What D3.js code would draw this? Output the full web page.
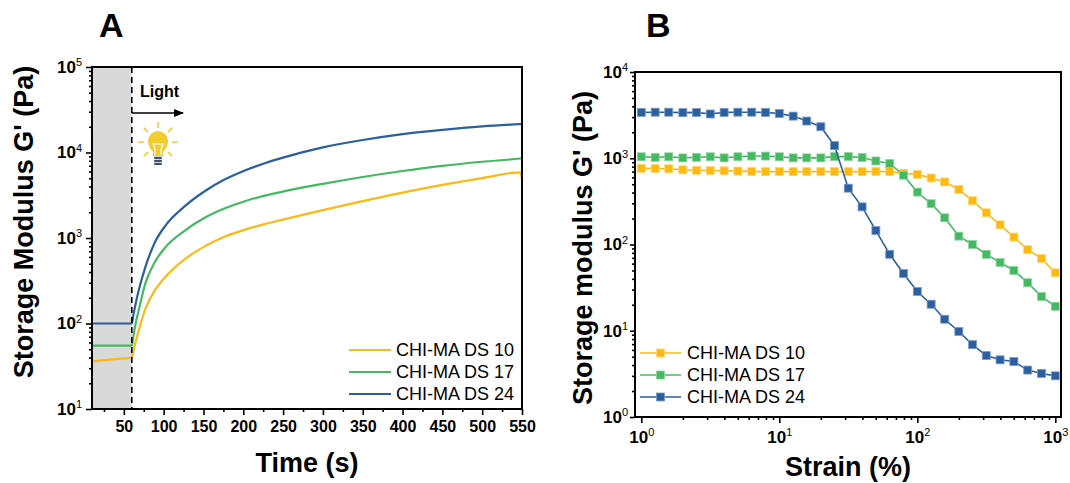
<!DOCTYPE html>
<html>
<head>
<meta charset="utf-8">
<script src="https://cdn.jsdelivr.net/npm/d3@7"></script>
<style>
  html, body { margin: 0; padding: 0; background: #fff; }
  svg { display: block; font-family: "Liberation Sans", Arial, sans-serif; }
</style>
</head>
<body>
<svg id="chart" width="1070" height="483"></svg>
<script>
// ---- data, panel A (time sweep, light on at 60 s)
const timeA = [10, 35, 60, 62, 65, 69, 77, 89, 102, 127, 152, 177, 202, 227, 252, 300, 350, 400, 450, 500, 548, 550];
const ds10A = [36, 38, 40, 48, 62, 85, 148, 245, 349, 569, 804, 1041, 1252, 1454, 1660, 2117, 2696, 3394, 4175, 5019, 5860, 4800];
const ds17A = [55, 55, 55, 72, 102, 148, 295, 525, 776, 1230, 1738, 2226, 2692, 3126, 3528, 4304, 5175, 6080, 6981, 7789, 8508, 8550];
const ds24A = [100, 100, 100, 126, 174, 251, 457, 891, 1390, 2377, 3548, 4853, 6166, 7499, 8831, 11482, 13996, 16406, 18408, 20184, 21478, 21528];
const lightOn = 60;
const timeTicks = [50, 100, 150, 200, 250, 300, 350, 400, 450, 500, 550];

// ---- data, panel B (strain sweep)
const strainB = [1, 1.26, 1.58, 2, 2.51, 3.16, 3.98, 5.01, 6.31, 7.94, 10, 12.6, 15.8, 20, 25.1, 31.6,
  39.8, 50.1, 63.1, 79.4, 100, 126, 158, 200, 251, 316, 398, 501, 631, 794, 1000];
const ds10B = [765, 760, 755, 735, 725, 720, 715, 710, 705, 700, 700, 700, 700, 700, 700, 700,
  700, 700, 700, 670, 650, 590, 531, 436, 322, 233, 169, 122, 87, 69, 47];
const ds17B = [1040, 1025, 1040, 1010, 1025, 1040, 1010, 1040, 1060, 1060, 1040, 1010, 1010, 1010, 1045, 1045,
  1020, 930, 870, 635, 405, 297, 204, 125, 100, 77, 62, 50, 36, 25, 19.2];
const ds24B = [3400, 3420, 3420, 3380, 3400, 3260, 3400, 3420, 3420, 3400, 3300, 3080, 2700, 2320, 1400, 450,
  273, 145, 77, 46, 28.5, 20.3, 13.6, 9.8, 6.9, 5.15, 4.6, 4.4, 3.5, 3.2, 3.0];

const seriesNames = ['CHI-MA DS 10', 'CHI-MA DS 17', 'CHI-MA DS 24'];
const colors = ['#fdb913', '#45b862', '#2b5f9e'];
const markerEdge = ['#ffd76e', '#8fd6a0', '#7b9ccb'];

const svg = d3.select('#chart');

// helpers
function decadeMinors(lo, hi) {
  const out = [];
  for (let p = lo; p < hi; p *= 10) {
    for (let k = 2; k <= 9; k++) out.push(k * p);
  }
  return out;
}

function powerLabels(g) {
  g.selectAll('.tick text').each(function(d) {
    const t = d3.select(this);
    t.text('10');
    t.append('tspan')
      .attr('dy', '-0.6em')
      .attr('font-size', 11)
      .attr('font-weight', 'normal')
      .text(Math.round(Math.log10(d)));
  });
}

function styleAxis(g, size) {
  g.select('.domain').remove();
  g.selectAll('.tick line').attr('stroke', '#000').attr('stroke-width', 1.6);
  g.selectAll('.tick text')
    .attr('fill', '#000')
    .attr('font-size', size)
    .attr('font-weight', 'bold')
    .attr('font-family', '"Liberation Sans", Arial, sans-serif');
}

// ================= panel A =================
const pa = { left: 92, right: 522, top: 67, bottom: 409 };
const xA = d3.scaleLinear().domain([10, 550]).range([pa.left, pa.right]);
const yA = d3.scaleLog().domain([10, 1e5]).range([pa.bottom, pa.top]);
const gA = svg.append('g');

gA.append('rect')
  .attr('x', xA(10)).attr('y', pa.top)
  .attr('width', xA(lightOn) - xA(10)).attr('height', pa.bottom - pa.top)
  .attr('fill', '#d9d9d9');

const lineA = d3.line().x(d => xA(d.t)).y(d => yA(d.v)).curve(d3.curveMonotoneX);
[ds10A, ds17A, ds24A].forEach((vals, i) => {
  gA.append('path')
    .datum(timeA.map((t, j) => ({ t, v: vals[j] })))
    .attr('fill', 'none')
    .attr('stroke', colors[i])
    .attr('stroke-width', 2.2)
    .attr('d', lineA);
});

gA.append('line')
  .attr('x1', xA(lightOn)).attr('x2', xA(lightOn))
  .attr('y1', pa.top).attr('y2', pa.bottom)
  .attr('stroke', '#000').attr('stroke-width', 1.6)
  .attr('stroke-dasharray', '6,4');

// x axis A
gA.append('g')
  .attr('transform', `translate(0,${pa.bottom})`)
  .call(d3.axisBottom(xA).tickValues(d3.range(25, 550, 50)).tickSize(3).tickFormat(''))
  .call(g => styleAxis(g, 16));
gA.append('g')
  .attr('transform', `translate(0,${pa.bottom})`)
  .call(d3.axisBottom(xA).tickValues(timeTicks).tickSize(6).tickPadding(6).tickFormat(d3.format('d')))
  .call(g => styleAxis(g, 16));

// y axis A
gA.append('g')
  .attr('transform', `translate(${pa.left},0)`)
  .call(d3.axisLeft(yA).tickValues(decadeMinors(10, 1e5)).tickSize(3).tickFormat(''))
  .call(g => styleAxis(g, 17));
gA.append('g')
  .attr('transform', `translate(${pa.left},0)`)
  .call(d3.axisLeft(yA).tickValues([10, 100, 1e3, 1e4, 1e5]).tickSize(6).tickPadding(4))
  .call(g => styleAxis(g, 17))
  .call(powerLabels);

gA.append('rect')
  .attr('x', pa.left).attr('y', pa.top)
  .attr('width', pa.right - pa.left).attr('height', pa.bottom - pa.top)
  .attr('fill', 'none').attr('stroke', '#000').attr('stroke-width', 2);

// light annotation
gA.append('text')
  .attr('x', 140).attr('y', 97)
  .attr('font-size', 16).attr('font-weight', 'bold')
  .text('Light');
svg.append('defs').append('marker')
  .attr('id', 'arrow').attr('viewBox', '0 0 10 10')
  .attr('refX', 9).attr('refY', 5)
  .attr('markerWidth', 7).attr('markerHeight', 7)
  .attr('orient', 'auto')
  .append('path').attr('d', 'M0,1 L10,5 L0,9 Z').attr('fill', '#000');
gA.append('line')
  .attr('x1', xA(lightOn)).attr('x2', 183)
  .attr('y1', 113).attr('y2', 113)
  .attr('stroke', '#000').attr('stroke-width', 1.5)
  .attr('marker-end', 'url(#arrow)');

// bulb
const bulb = gA.append('g').attr('transform', 'translate(158,142)');
[-90, -135, -45, 180, 0, 135, 45].forEach(a => {
  const r = a * Math.PI / 180;
  bulb.append('line')
    .attr('x1', 14 * Math.cos(r)).attr('y1', 14 * Math.sin(r))
    .attr('x2', 20 * Math.cos(r)).attr('y2', 20 * Math.sin(r))
    .attr('stroke', '#f3cf34').attr('stroke-width', 1.6);
});
bulb.append('path')
  .attr('d', 'M-5,14 L-5,10 C-8,7 -10,3 -10,-1 A10,10 0 1 1 10,-1 C10,3 8,7 5,10 L5,14 Z')
  .attr('fill', '#f2cd2e');
bulb.append('path')
  .attr('d', 'M-3,13 L-3,7 L-5,2 L5,2 L3,7 L3,13')
  .attr('fill', 'none').attr('stroke', '#fff').attr('stroke-width', 1.2);
[16, 19, 22].forEach(y => {
  bulb.append('rect')
    .attr('x', -4).attr('y', y - 1.2).attr('width', 8).attr('height', 2.2).attr('rx', 1)
    .attr('fill', '#3c5570');
});

// legend A
const legA = gA.append('g');
seriesNames.forEach((name, i) => {
  const y = 350 + i * 22;
  legA.append('line').attr('x1', 349).attr('x2', 391).attr('y1', y).attr('y2', y)
    .attr('stroke', colors[i]).attr('stroke-width', 2.2);
  legA.append('text').attr('x', 396).attr('y', y).attr('dy', '0.36em')
    .attr('font-size', 18).text(name);
});

// titles A
gA.append('text')
  .attr('transform', 'translate(33,222) rotate(-90)')
  .attr('text-anchor', 'middle').attr('font-size', 27).attr('font-weight', 'bold')
  .text("Storage Modulus G' (Pa)");
gA.append('text')
  .attr('x', (pa.left + pa.right) / 2).attr('y', 472)
  .attr('text-anchor', 'middle').attr('font-size', 27).attr('font-weight', 'bold')
  .text('Time (s)');
gA.append('text')
  .attr('x', 99).attr('y', 37)
  .attr('font-size', 34).attr('font-weight', 'bold')
  .text('A');

// ================= panel B =================
const pb = { left: 635, right: 1061, top: 72, bottom: 417 };
const xB = d3.scaleLog().domain([0.9, 1100]).range([pb.left, pb.right]);
const yB = d3.scaleLog().domain([1, 1e4]).range([pb.bottom, pb.top]);
const gB = svg.append('g');

const lineB = d3.line().x(d => xB(d.s)).y(d => yB(d.v));
[ds10B, ds17B, ds24B].forEach((vals, i) => {
  const pts = strainB.map((s, j) => ({ s, v: vals[j] }));
  gB.append('path')
    .datum(pts)
    .attr('fill', 'none')
    .attr('stroke', colors[i])
    .attr('stroke-width', 1.6)
    .attr('d', lineB);
  gB.append('g').selectAll('rect')
    .data(pts)
    .enter()
    .append('rect')
    .attr('x', d => xB(d.s) - 4)
    .attr('y', d => yB(d.v) - 4)
    .attr('width', 8).attr('height', 8)
    .attr('fill', colors[i])
    .attr('stroke', markerEdge[i]).attr('stroke-width', 0.8);
});

// x axis B
gB.append('g')
  .attr('transform', `translate(0,${pb.bottom})`)
  .call(d3.axisBottom(xB).tickValues(decadeMinors(1, 1000)).tickSize(3).tickFormat(''))
  .call(g => styleAxis(g, 17));
gB.append('g')
  .attr('transform', `translate(0,${pb.bottom})`)
  .call(d3.axisBottom(xB).tickValues([1, 10, 100, 1000]).tickSize(6).tickPadding(8))
  .call(g => styleAxis(g, 17))
  .call(powerLabels);

// y axis B
gB.append('g')
  .attr('transform', `translate(${pb.left},0)`)
  .call(d3.axisLeft(yB).tickValues(decadeMinors(1, 1e4)).tickSize(3).tickFormat(''))
  .call(g => styleAxis(g, 17));
gB.append('g')
  .attr('transform', `translate(${pb.left},0)`)
  .call(d3.axisLeft(yB).tickValues([1, 10, 100, 1e3, 1e4]).tickSize(5).tickPadding(2))
  .call(g => styleAxis(g, 17))
  .call(powerLabels);

gB.append('rect')
  .attr('x', pb.left).attr('y', pb.top)
  .attr('width', pb.right - pb.left).attr('height', pb.bottom - pb.top)
  .attr('fill', 'none').attr('stroke', '#000').attr('stroke-width', 2);

// legend B
const legB = gB.append('g');
seriesNames.forEach((name, i) => {
  const y = 353 + i * 22;
  legB.append('line').attr('x1', 640).attr('x2', 681).attr('y1', y).attr('y2', y)
    .attr('stroke', colors[i]).attr('stroke-width', 1.6);
  legB.append('rect').attr('x', 656.5).attr('y', y - 4).attr('width', 8).attr('height', 8)
    .attr('fill', colors[i]).attr('stroke', markerEdge[i]).attr('stroke-width', 0.8);
  legB.append('text').attr('x', 687).attr('y', y).attr('dy', '0.36em')
    .attr('font-size', 18).text(name);
});

// titles B
gB.append('text')
  .attr('transform', 'translate(592,248) rotate(-90)')
  .attr('text-anchor', 'middle').attr('font-size', 27).attr('font-weight', 'bold')
  .text("Storage modulus G' (Pa)");
gB.append('text')
  .attr('x', (pb.left + pb.right) / 2).attr('y', 476)
  .attr('text-anchor', 'middle').attr('font-size', 27).attr('font-weight', 'bold')
  .text('Strain (%)');
gB.append('text')
  .attr('x', 646).attr('y', 37)
  .attr('font-size', 34).attr('font-weight', 'bold')
  .text('B');
</script>
</body>
</html>
